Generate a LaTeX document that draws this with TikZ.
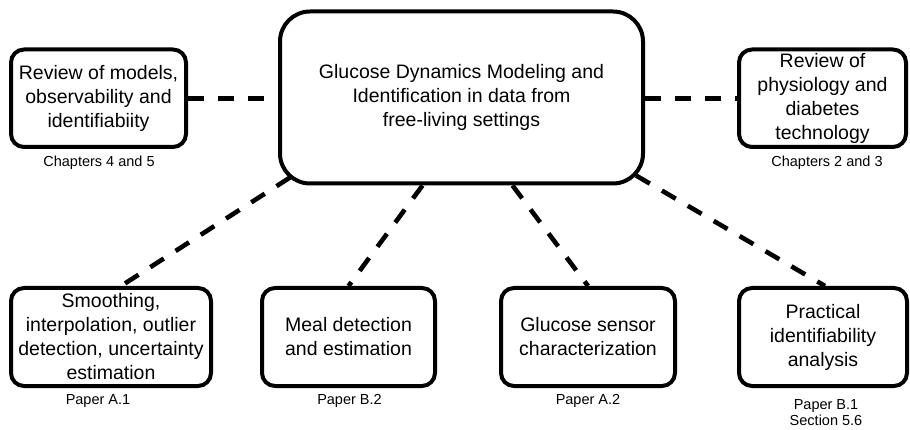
\documentclass[tikz,border=0pt]{standalone}
\usepackage{fontspec}
\setmainfont{Liberation Sans}
\usetikzlibrary{backgrounds,calc}

\begin{document}
\begin{tikzpicture}[x=1pt,y=-1pt,
  topicbox/.style={draw=black, line width=4pt, fill=white, rounded corners=13pt,
    inner sep=0pt, align=center, font=\fontsize{19.5}{24}\selectfont},
  mainbox/.style={topicbox, rounded corners=30pt},
  caption/.style={inner sep=0pt, align=center, font=\fontsize{14.5}{15.5}\selectfont},
  link/.style={draw=black, line width=4.6pt, dash pattern=on 16pt off 14pt}]
\useasboundingbox (0,0) rectangle (910,430);

% central topic
\node[mainbox, minimum width=363pt, minimum height=172pt] (c) at (461.5,97.5)
  {Glucose Dynamics Modeling and\\Identification in data from\\free-living settings};

% literature reviews
\node[topicbox, minimum width=175pt, minimum height=97.5pt] (rl) at (98.5,98.25)
  {Review of models,\\observability and\\identifiabiity};
\node[topicbox, minimum width=167pt, minimum height=97.5pt] (rr) at (822.5,98.25)
  {Review of\\physiology and\\diabetes\\technology};
\node[caption] (crl) at (99,163) {Chapters 4 and 5};
\node[caption] (crr) at (827,163) {Chapters 2 and 3};

% contributions
\node[topicbox, minimum width=200pt, minimum height=98pt] (b1) at (111,337)
  {Smoothing,\\interpolation, outlier\\detection, uncertainty\\estimation};
\node[topicbox, minimum width=173pt, minimum height=98pt] (b2) at (348.5,337)
  {Meal detection\\and estimation};
\node[topicbox, minimum width=174pt, minimum height=98pt] (b3) at (588,337)
  {Glucose sensor\\characterization};
\node[topicbox, minimum width=168pt, minimum height=98pt] (b4) at (823,337)
  {Practical\\identifiability\\analysis};
\node[caption] (p1) at (98,401) {Paper A.1};
\node[caption] (p2) at (349.5,401) {Paper B.2};
\node[caption] (p3) at (588,401) {Paper A.2};
\node[caption] (p4) at (826,412.5) {Paper B.1\\Section 5.6};

% dashed links, kept behind the boxes
\begin{scope}[on background layer]
  \coordinate (cl) at ($(c.south west)+(12,-8)$);
  \coordinate (cr) at ($(c.south east)+(-9,-10)$);
  \draw[link] (rl.east) -- (c.west |- rl.east);
  \draw[link] (c.east |- rr.west) -- (rr.west);
  \draw[link] (cl) -- ($(b1.north)+(10,0)$);
  \draw[link] ($(c.south)+(-39,0)$) -- (b2.north);
  \draw[link] ($(c.south)+(51,0)$) -- (b3.north);
  \draw[link] (cr) -- ($(b4.north)+(2,0)$);
\end{scope}
\end{tikzpicture}
\end{document}
